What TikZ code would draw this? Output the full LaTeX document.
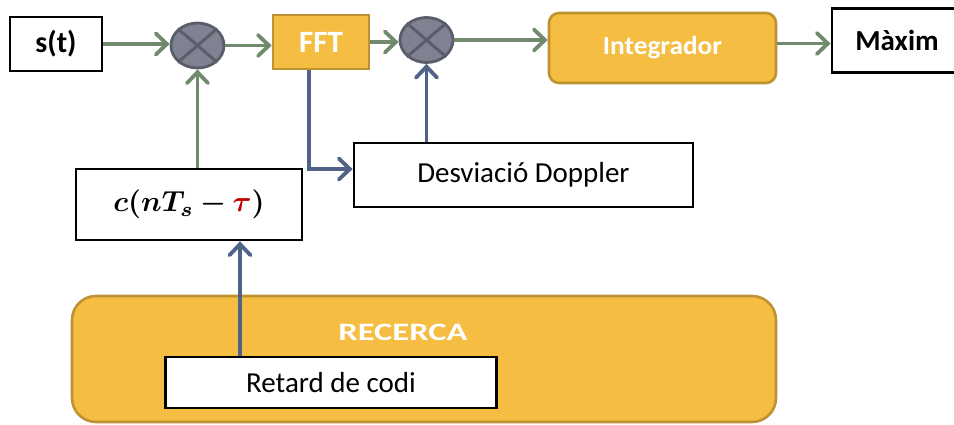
\documentclass[tikz,border=0pt]{standalone}
\usepackage{amsmath,bm}
\usepackage[no-math]{fontspec}
\setmainfont{Carlito}
\usetikzlibrary{arrows.meta,shapes.geometric}

\definecolor{goldfill}{RGB}{245,189,65}
\definecolor{goldline}{RGB}{190,145,50}
\definecolor{sigline}{RGB}{113,138,110}
\definecolor{ctlline}{RGB}{80,98,136}
\definecolor{mixfill}{RGB}{127,131,145}
\definecolor{mixline}{RGB}{90,94,106}
\definecolor{taured}{RGB}{192,0,0}

\tikzset{
  plainbox/.style={draw=black, line width=2.8pt, fill=white, inner sep=0pt,
    font=\fontsize{29}{29}\selectfont},
  goldbox/.style={draw=goldline, line width=2.6pt, fill=goldfill, inner sep=0pt,
    text=white, font=\fontsize{29}{29}\selectfont\bfseries},
  mixer/.style={ellipse, draw=mixline, fill=mixfill, line width=2.8pt,
    minimum width=53pt, minimum height=45pt, inner sep=0pt},
  mixcross/.style={draw=mixline, line width=3pt},
  sigarrow/.style={draw=sigline, line width=3.8pt,
    -{Straight Barb[length=11pt,width=21pt,line cap=round]}},
  ctlarrow/.style={draw=ctlline, line width=3.8pt,
    -{Straight Barb[length=11pt,width=21pt,line cap=round]}}
}

\begin{document}
\begin{tikzpicture}[x=1pt,y=-1pt]
\useasboundingbox (0,0) rectangle (954,424);

% search block at the bottom
\node[goldbox, rounded corners=24pt, minimum width=704pt, minimum height=126pt] (rec) at (424,359) {};
\node[text=white, font=\fontsize{25}{25}\selectfont\bfseries] (rectxt) at (403,332) {\scalebox{1.38}[1]{RECERCA}};
\node[plainbox, minimum width=331pt, minimum height=51pt] (ret) at (331,382.5) {Retard de codi};

% main signal chain
\node[plainbox, minimum width=92pt, minimum height=54pt, font=\fontsize{30}{30}\selectfont\bfseries] (s) at (56,44) {s(t)};
\node[mixer] (m1) at (197.5,45.5) {};
\node[goldbox, minimum width=96pt, minimum height=54pt, font=\fontsize{31}{31}\selectfont\bfseries] (fft) at (321,42) {FFT};
\node[mixer] (m2) at (426.5,40) {};
\node[goldbox, rounded corners=10pt, minimum width=227pt, minimum height=70pt,
  font=\fontsize{26}{26}\selectfont\bfseries] (int) at (662.5,48) {\scalebox{1.05}[1]{Integrador}};
\node[plainbox, minimum width=130pt, minimum height=64pt, font=\fontsize{29}{29}\selectfont\bfseries] (max) at (897,40.5) {Màxim};

% local replica and Doppler branch
\node[plainbox, minimum width=226pt, minimum height=71pt, font=\normalsize] (c) at (189,204.5)
  {\scalebox{2.9}{$\bm{c(nT_s-}\textcolor{taured}{\bm{\tau}}\bm{)}$}};
\node[plainbox, minimum width=339pt, minimum height=64pt] (dop) at (523.5,175) {Desviació Doppler};

% crosses inside the mixers
\foreach \m in {m1,m2}{
  \draw[mixcross] (\m.north west) -- (\m.south east);
  \draw[mixcross] (\m.north east) -- (\m.south west);
}

% signal path
\draw[sigarrow] (s.east) -- (s.east -| m1.west);
\draw[sigarrow] (m1.east) -- (m1.east -| fft.west);
\draw[sigarrow] (fft.east) -- (fft.east -| m2.west);
\draw[sigarrow] (m2.east) -- (m2.east -| int.west);
\draw[sigarrow] ([yshift=-3pt]max.west -| int.east) -- ([yshift=-3pt]max.west);
\draw[sigarrow] (c.north -| m1.south) -- (m1.south);

% control path
\draw[ctlarrow] ([xshift=-12pt]fft.south) |- ([yshift=6pt]dop.west);
\draw[ctlarrow] (dop.north -| m2.south) -- (m2.south);
\draw[ctlarrow] ([xshift=-91pt]ret.north) -- ([xshift=-91pt]ret.north |- c.south);
\end{tikzpicture}
\end{document}
